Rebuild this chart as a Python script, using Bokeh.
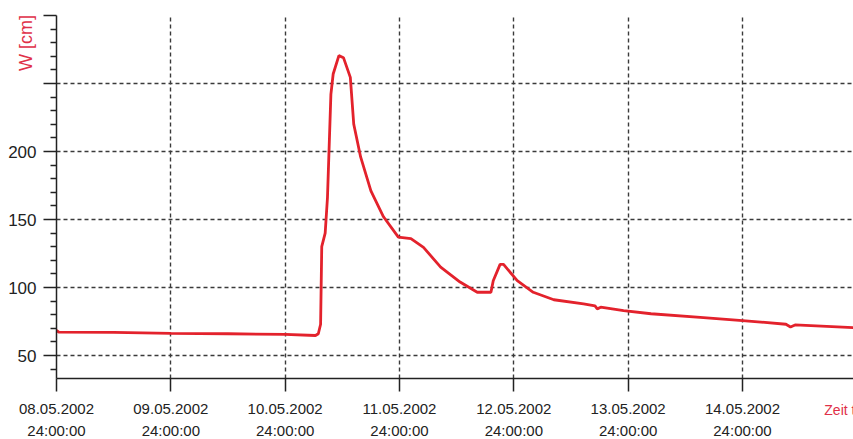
from bokeh.plotting import figure
from bokeh.models import FixedTicker, Range1d
from bokeh.embed import file_html
from bokeh.resources import INLINE

# time in days after 08.05.2002 24:00:00, water level W in cm
t_days = [0.0, 0.02, 0.5, 1.0, 1.5, 2.0, 2.265, 2.29, 2.31, 2.32, 2.35, 2.37, 2.40, 2.42,
          2.47, 2.51, 2.57, 2.60, 2.66, 2.75, 2.86, 2.99, 3.10, 3.21, 3.36, 3.53,
          3.68, 3.80, 3.82, 3.88, 3.91, 4.03, 4.17, 4.35, 4.61, 4.71, 4.73, 4.76,
          4.96, 5.20, 5.63, 6.00, 6.38, 6.42, 6.46, 6.97]
w_cm = [68.5, 67.2, 67.0, 66.3, 66.0, 65.5, 64.7, 66.0, 73.0, 130.0, 140.0, 166.0, 242.0, 257.0,
        270.5, 269.0, 254.5, 220.0, 196.0, 171.0, 152.0, 137.0, 136.0, 129.5, 115.0, 104.0,
        96.5, 96.5, 105.0, 117.0, 117.0, 105.0, 96.5, 91.0, 88.0, 86.5, 84.3, 85.5,
        83.0, 80.7, 78.0, 75.7, 73.0, 71.0, 72.5, 70.5]

x_ticks = [0, 1, 2, 3, 4, 5, 6]
x_tick_labels = ["08.05.2002\n24:00:00", "09.05.2002\n24:00:00", "10.05.2002\n24:00:00",
                 "11.05.2002\n24:00:00", "12.05.2002\n24:00:00", "13.05.2002\n24:00:00",
                 "14.05.2002\n24:00:00"]
y_ticks = [50, 100, 150, 200, 250, 300]
y_tick_labels = ["50", "100", "150", "200", "", ""]
x_title = "Zeit t"
y_title = "W [cm]"

RED = "#e3222c"
LABEL_RED = "#e03048"
FONT = "Liberation Sans"
NBSP = "\u00a0"

p = figure(width=853, height=439, output_backend="svg", toolbar_location=None,
           x_range=Range1d(0, 6.971), y_range=Range1d(33.1, 300),
           min_border_left=56, min_border_right=0, min_border_top=15, min_border_bottom=61)
p.outline_line_color = None
p.background_fill_color = "white"
p.border_fill_color = "white"

p.line(t_days, w_cm, line_color=RED, line_width=2.8)

# axes
p.xaxis.ticker = FixedTicker(ticks=x_ticks)
p.xaxis.major_label_overrides = dict(zip(x_ticks, x_tick_labels))
p.yaxis.ticker = FixedTicker(ticks=y_ticks,
                             minor_ticks=[v for v in range(40, 300, 10) if v % 50 != 0])
p.yaxis.major_label_overrides = dict(zip(y_ticks, y_tick_labels))

for ax in (p.xaxis, p.yaxis):
    ax.axis_line_color = "#222222"
    ax.axis_line_width = 1.5
    ax.major_tick_line_color = "#222222"
    ax.major_tick_line_width = 1.5
    ax.major_tick_in = 0
    ax.major_label_text_font = FONT
    ax.major_label_text_color = "#222222"
    ax.major_label_text_font_style = "normal"
    ax.axis_label_text_font = FONT
    ax.axis_label_text_color = LABEL_RED
    ax.axis_label_text_font_style = "normal"


def set_align(ax, options):
    for v in options:
        try:
            ax.axis_label_align = v
            return True
        except Exception:
            pass
    return False


# axis titles sit at the axis end (centered there); trailing non-breaking
# spaces shift the visible words inward, as in the original chart
p.xaxis.major_tick_out = 13
p.xaxis.minor_tick_line_color = None
p.xaxis.major_label_standoff = 8
p.xaxis.major_label_text_font_size = "15px"
p.xaxis.major_label_text_line_height = 1.32
p.xaxis.axis_label = x_title + NBSP * 7
p.xaxis.axis_label_text_font_size = "14px"
p.xaxis.axis_label_standoff = -40
set_align(p.xaxis, ["end", "right"])

p.yaxis.major_tick_out = 13
p.yaxis.minor_tick_out = 6
p.yaxis.minor_tick_in = 0
p.yaxis.minor_tick_line_color = "#222222"
p.yaxis.minor_tick_line_width = 1.3
p.yaxis.major_label_standoff = 7
p.yaxis.major_label_text_font_size = "17px"
p.yaxis.axis_label = y_title + NBSP * 11
p.yaxis.axis_label_text_font_size = "18px"
p.yaxis.axis_label_standoff = -31
set_align(p.yaxis, ["end", "right"])

# grid
for g in (p.xgrid, p.ygrid):
    g.grid_line_color = "#3a3a3a"
    g.grid_line_dash = "4 3"
    g.grid_line_width = 1.4

open("out.html", "w").write(file_html(p, INLINE))
